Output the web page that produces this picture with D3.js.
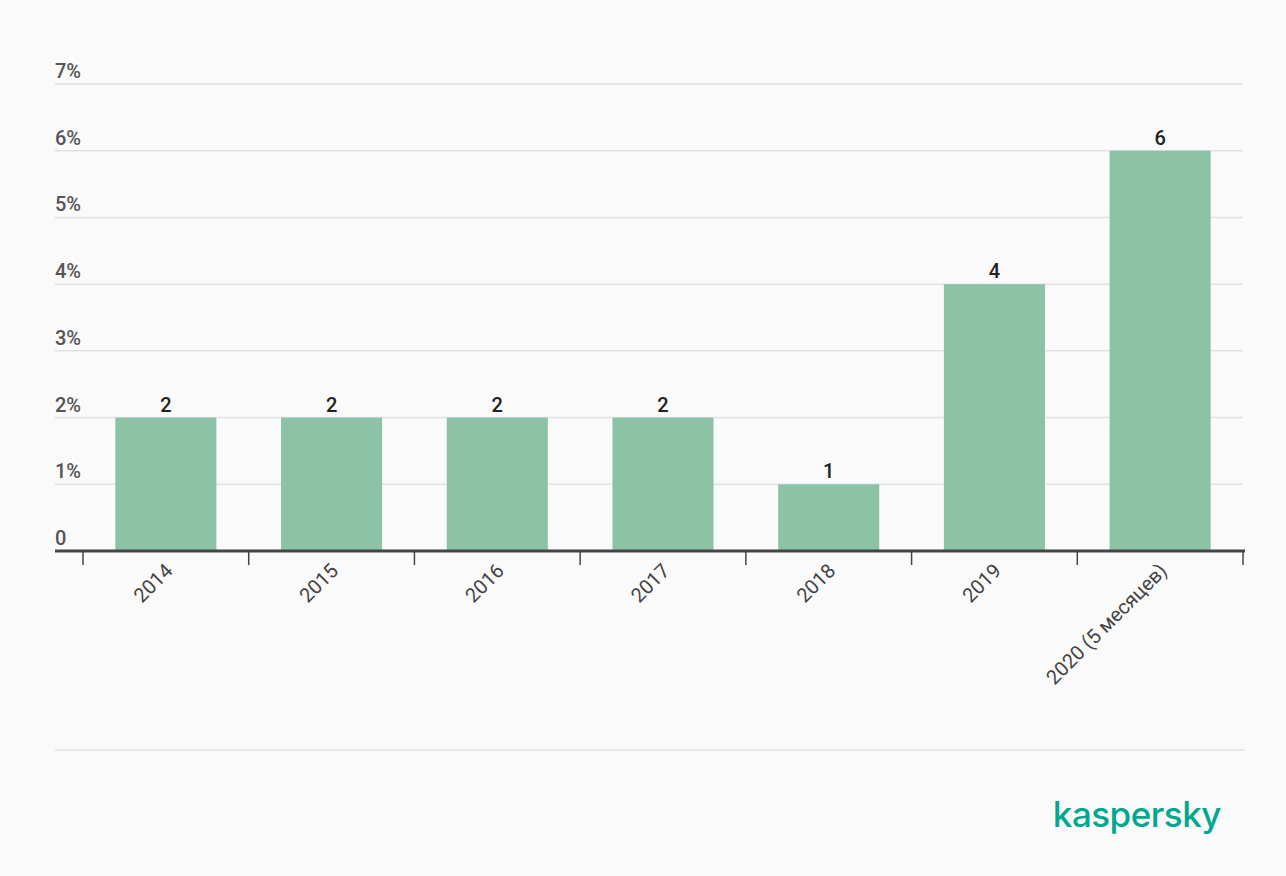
<!DOCTYPE html>
<html><head><meta charset="utf-8">
<script src="https://cdn.jsdelivr.net/npm/d3@7"></script>
<style>
html,body{margin:0;padding:0;background:#fafafa;}
svg{display:block;font-family:Roboto, "Noto Sans", sans-serif;}
</style></head>
<body>
<svg id="chart" width="1286" height="876"></svg>
<script>
const categories = ["2014","2015","2016","2017","2018","2019","2020 (5 месяцев)"];
const values = [2,2,2,2,1,4,6];
const yTicks = [0,1,2,3,4,5,6,7];
const yTickLabels = ["0","1%","2%","3%","4%","5%","6%","7%"];

const svg = d3.select("#chart");
const gridLeft = 55, gridRight = 1243;
const x = d3.scaleBand().domain(categories).range([83, 1243]).paddingInner(0.39).paddingOuter(0.195);
const y = d3.scaleLinear().domain([0,7]).range([551, 84]);

// gridlines
svg.append("g").selectAll("line").data(yTicks.filter(d=>d>0)).join("line")
  .attr("x1", gridLeft).attr("x2", gridRight)
  .attr("y1", d=>y(d)).attr("y2", d=>y(d))
  .attr("stroke", "#e2e2e2").attr("stroke-width", 1.5);

// y labels
svg.append("g").selectAll("text").data(yTicks).join("text")
  .attr("x", gridLeft).attr("y", d=>y(d)-6)
  .attr("fill", "#555").attr("font-size", 20).attr("font-weight", 500)
  .text((d,i)=>yTickLabels[i]);

// bars
svg.append("g").selectAll("rect").data(values).join("rect")
  .attr("x", (d,i)=>x(categories[i]))
  .attr("width", x.bandwidth())
  .attr("y", d=>y(d))
  .attr("height", d=>y(0)-y(d))
  .attr("fill", "#8cc3a7");

// value labels
svg.append("g").selectAll("text").data(values).join("text")
  .attr("x", (d,i)=>x(categories[i]) + x.bandwidth()/2)
  .attr("y", d=>y(d)-6)
  .attr("text-anchor", "middle")
  .attr("fill", "#222").attr("font-size", 20).attr("font-weight", 500)
  .text(d=>d);

// x axis
const gx = svg.append("g").attr("transform", `translate(0,${y(0)})`);
gx.append("line").attr("x1", gridLeft).attr("x2", gridRight+2).attr("y1",0).attr("y2",0)
  .attr("stroke", "#444").attr("stroke-width", 3);
const bounds = categories.map(c => x(c) - x.step()*x.paddingInner()/2);
bounds.push(gridRight);
gx.selectAll("line.tick").data(bounds).join("line").attr("class","tick")
  .attr("x1", d=>d).attr("x2", d=>d).attr("y1", 0).attr("y2", 14)
  .attr("stroke", "#444").attr("stroke-width", 1.5);

// x labels
gx.selectAll("text.lbl").data(categories).join("text").attr("class","lbl")
  .attr("transform", c => `translate(${x(c)+x.bandwidth()/2+8},${21}) rotate(-45)`)
  .attr("text-anchor", "end")
  .attr("fill", "#444").attr("font-size", 20)
  .text(c=>c);

// bottom rule
svg.append("line").attr("x1", gridLeft).attr("x2", gridRight+2).attr("y1", 750).attr("y2", 750)
  .attr("stroke", "#e2e2e2").attr("stroke-width", 1.5);

// logo
svg.append("text").attr("x", 1221).attr("y", 827).attr("text-anchor", "end")
  .attr("fill", "#00a88e").attr("font-size", 35).attr("font-weight", 500)
  .attr("font-family", "Inter, Roboto, sans-serif").attr("letter-spacing", -0.5)
  .text("kaspersky");
</script>
</body></html>
